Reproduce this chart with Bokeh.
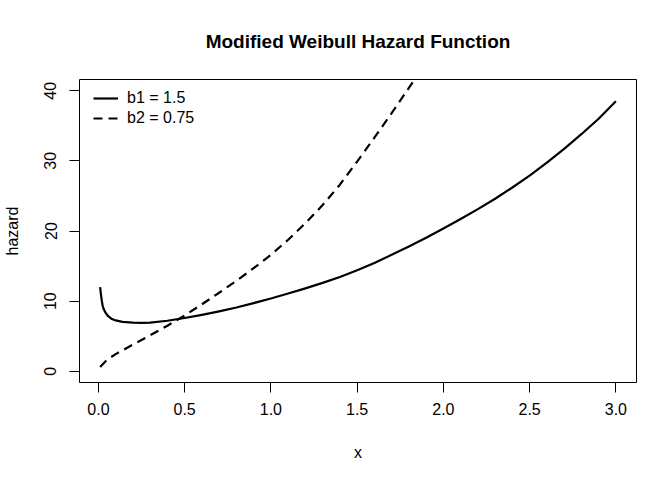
from bokeh.plotting import figure
from bokeh.models import Range1d, FixedTicker, Legend, LegendItem
from bokeh.embed import file_html
from bokeh.resources import INLINE

# ---- data ----
x_b1 = [0.01, 0.015, 0.02, 0.025, 0.03, 0.04, 0.055, 0.075, 0.10, 0.14,
        0.20, 0.25, 0.30, 0.40, 0.50, 0.60, 0.70, 0.80, 0.90, 1.00,
        1.10, 1.20, 1.30, 1.40, 1.50, 1.60, 1.70, 1.80, 1.90, 2.00,
        2.10, 2.20, 2.30, 2.40, 2.50, 2.60, 2.70, 2.80, 2.90, 3.00]
h_b1 = [12.0, 10.9, 10.0, 9.3, 8.9, 8.4, 7.9, 7.5, 7.25, 7.05,
        6.93, 6.9, 6.95, 7.2, 7.6, 8.05, 8.55, 9.1, 9.72, 10.38,
        11.08, 11.82, 12.6, 13.45, 14.4, 15.45, 16.6, 17.8, 19.05, 20.35,
        21.7, 23.12, 24.6, 26.2, 27.9, 29.75, 31.7, 33.8, 36.0, 38.5]

x_b2 = [0.01, 0.05, 0.10, 0.20, 0.30, 0.40, 0.50, 0.60, 0.70, 0.80,
        0.90, 1.00, 1.10, 1.20, 1.30, 1.40, 1.50, 1.60, 1.70, 1.80,
        1.90]
h_b2 = [0.62, 1.65, 2.45, 3.8, 5.13, 6.5, 7.95, 9.55, 11.2, 12.9,
        14.7, 16.6, 18.75, 21.1, 23.7, 26.6, 29.9, 33.3, 36.8, 40.4,
        44.1]

x_ticks = [0.0, 0.5, 1.0, 1.5, 2.0, 2.5, 3.0]
x_tick_labels = ["0.0", "0.5", "1.0", "1.5", "2.0", "2.5", "3.0"]
y_ticks = [0, 10, 20, 30, 40]
y_tick_labels = ["0", "10", "20", "30", "40"]
series_labels = ["b1 = 1.5", "b2 = 0.75"]
title_text = "Modified Weibull Hazard Function"
x_label = "x"
y_label = "hazard"

FONT = "Liberation Sans"

p = figure(frame_width=557, frame_height=303,
           min_border_left=78, min_border_right=37,
           min_border_top=79, min_border_bottom=98,
           x_range=Range1d(-0.1096, 3.1196), y_range=Range1d(-1.6, 41.6),
           output_backend="svg", toolbar_location=None, title=title_text)

p.title.text_font = FONT
p.title.text_font_size = "19px"
p.title.text_font_style = "bold"
p.title.align = "center"
p.title.text_color = "black"
p.title.standoff = 56

p.xgrid.visible = False
p.ygrid.visible = False
p.outline_line_color = "black"
p.outline_line_width = 1
p.outline_line_alpha = 1.0
p.background_fill_color = "white"
p.border_fill_color = "white"

for ax in (p.xaxis[0], p.yaxis[0]):
    ax.axis_line_color = None
    ax.major_tick_out = 10
    ax.major_tick_in = 0
    ax.minor_tick_out = 0
    ax.minor_tick_in = 0
    ax.major_tick_line_color = "black"
    ax.major_label_text_font = FONT
    ax.major_label_text_font_size = "16px"
    ax.major_label_text_color = "black"
    ax.axis_label_text_font = FONT
    ax.axis_label_text_font_size = "16px"
    ax.axis_label_text_font_style = "normal"
    ax.axis_label_text_color = "black"

p.xaxis.ticker = FixedTicker(ticks=x_ticks)
p.xaxis.major_label_overrides = {t: l for t, l in zip(x_ticks, x_tick_labels)}
p.xaxis.major_label_standoff = 10
p.xaxis.axis_label = x_label
p.xaxis.axis_label_standoff = 26

p.yaxis.ticker = FixedTicker(ticks=y_ticks)
p.yaxis.major_label_overrides = {t: l for t, l in zip(y_ticks, y_tick_labels)}
p.yaxis.major_label_orientation = "vertical"
p.yaxis.major_label_standoff = 13
p.yaxis.axis_label = y_label
p.yaxis.axis_label_standoff = 21

r1 = p.line(x_b1, h_b1, line_color="black", line_width=2.2, line_join="round")
r2 = p.line(x_b2, h_b2, line_color="black", line_width=2.2, line_dash="9 6",
            line_join="round")

legend = Legend(items=[LegendItem(label=series_labels[0], renderers=[r1]),
                       LegendItem(label=series_labels[1], renderers=[r2])],
                location=(14, 254), margin=0, padding=0, spacing=0,
                glyph_width=25, glyph_height=20, label_height=20,
                label_standoff=9, border_line_color=None,
                background_fill_alpha=0.0,
                label_text_font=FONT, label_text_font_size="16px",
                label_text_color="black")
p.add_layout(legend, "center")

open("out.html", "w").write(file_html(p, INLINE))
